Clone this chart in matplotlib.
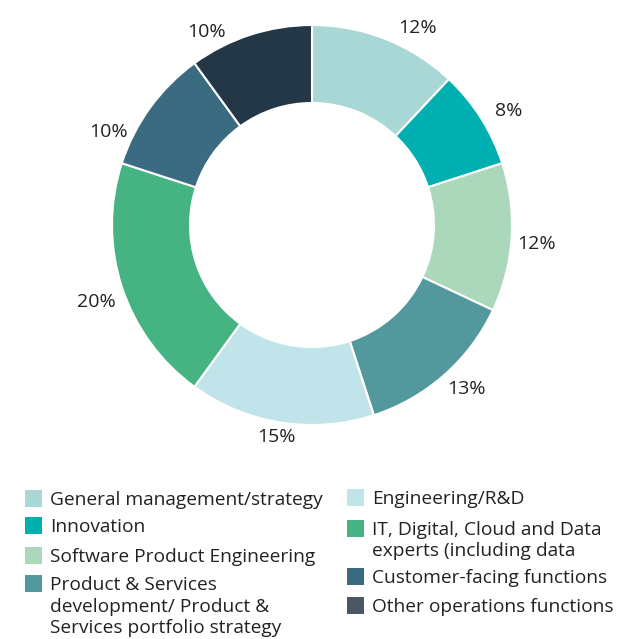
import matplotlib
matplotlib.use("Agg")
import numpy as np
import matplotlib.pyplot as plt
from matplotlib.patches import Rectangle

categories = [
    "General management/strategy",
    "Innovation",
    "Software Product Engineering",
    "Product & Services\ndevelopment/ Product &\nServices portfolio strategy",
    "Engineering/R&D",
    "IT, Digital, Cloud and Data\nexperts (including data",
    "Customer-facing functions",
    "Other operations functions",
]
values = [12, 8, 12, 13, 15, 20, 10, 10]
slice_colors = ["#a9d7d6", "#00b0b0", "#abd8bb", "#52989d", "#c0e4ea", "#46b482", "#3a6b80", "#233746"]
legend_colors = ["#a9d7d6", "#00b0b0", "#abd8bb", "#52989d", "#c0e4ea", "#46b482", "#3a6b80", "#4a5866"]

# label placement style (angle shift in degrees, radius as fraction of outer radius)
label_shift = [6.5, 2.3, 1.2, -1.8, 0.4, -1.6, -11.6, -10.8]
label_radius = [1.116, 1.138, 1.124, 1.125, 1.074, 1.147, 1.12, 1.099]

plt.rcParams['font.family'] = ['Open Sans', 'DejaVu Sans']
W, H = 638, 639
fig = plt.figure(figsize=(W / 100, H / 100), dpi=100)

ax = fig.add_axes([(312 - 200) / W, (H - 225 - 200) / H, 400 / W, 400 / H])
wedges, texts = ax.pie(
    values, colors=slice_colors, startangle=90, counterclock=False,
    labels=[f"{v}%" for v in values], labeldistance=1.12,
    wedgeprops=dict(width=0.39, edgecolor="white", linewidth=1.5),
    textprops=dict(fontsize=14, color="#222222"),
)
for w, t, s, r in zip(wedges, texts, label_shift, label_radius):
    mid = np.deg2rad((w.theta1 + w.theta2) / 2 - s)
    t.set_position((r * np.cos(mid), r * np.sin(mid)))
    t.set_ha("center")
    t.set_va("center")
ax.set_xlim(-1, 1)
ax.set_ylim(-1, 1)
ax.set_aspect("equal")
ax.axis("off")

# Legend drawn manually in figure pixel coordinates
lax = fig.add_axes([0, 0, 1, 1])
lax.set_xlim(0, W)
lax.set_ylim(H, 0)
lax.axis("off")
left_base = [505, 532, 562, 590]
right_base = [504, 535, 583, 612]
line_h = 21.5
cols = [(25, 50, left_base), (347, 372, right_base)]
idx = 0
for sx, tx, rows in cols:
    for by in rows:
        lax.add_patch(Rectangle((sx, by - 15), 17, 17, color=legend_colors[idx], lw=0))
        for k, line in enumerate(categories[idx].split("\n")):
            lax.text(tx, by + k * line_h, line, fontsize=13.8, color="#222222",
                     va="baseline", ha="left")
        idx += 1

fig.savefig("out.png", dpi=100)
